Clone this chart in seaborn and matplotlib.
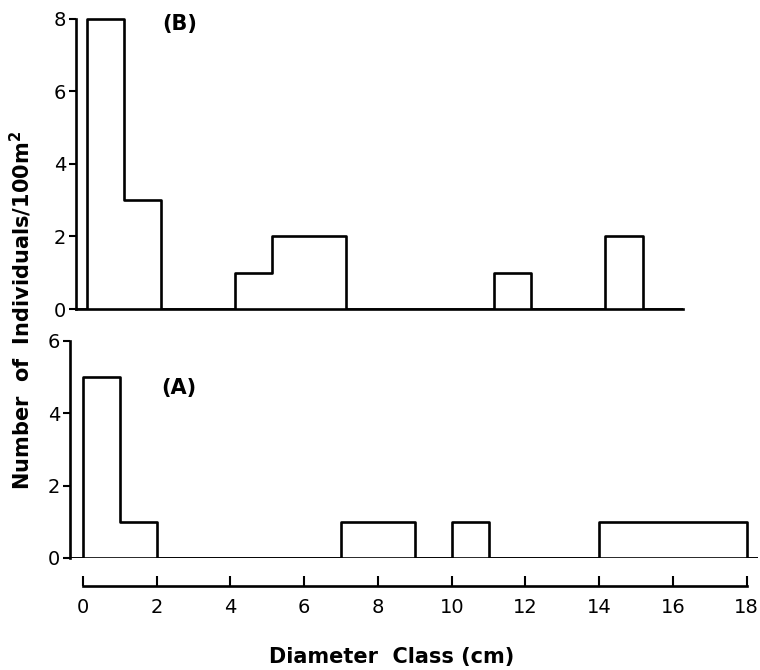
import numpy as np
import matplotlib
matplotlib.use("Agg")
import matplotlib.pyplot as plt
import seaborn as sns

# diameter class edges (cm) and individuals/100 m2 per class
# (outer zero-count classes only pad the outline back to the baseline)
edges_B = [-1, 0, 1, 2, 4, 5, 7, 11, 12, 14, 15, 17]
counts_B = [0, 8, 3, 0, 1, 2, 0, 1, 0, 2, 0]

edges_A = [-1, 0, 1, 2, 7, 9, 10, 11, 14, 18, 19]
counts_A = [0, 5, 1, 0, 1, 0, 1, 0, 1, 0]

yticks_B = [0, 2, 4, 6, 8]
yticks_A = [0, 2, 4, 6]
xticks = [0, 2, 4, 6, 8, 10, 12, 14, 16, 18]

sns.set_style("ticks", {"axes.edgecolor": "black", "text.color": "black",
                        "xtick.color": "black", "ytick.color": "black"})
plt.rcParams["font.family"] = ["DejaVu Sans"]

fig = plt.figure(figsize=(7.6, 6.7), dpi=100)
axB = fig.add_axes([0.100, 0.5388, 0.799, 0.4373])
axA = fig.add_axes([0.0921, 0.1672, 0.905, 0.3269])

lw = 1.9


def mids(e):
    e = np.asarray(e, dtype=float)
    return (e[:-1] + e[1:]) / 2


sns.histplot(x=mids(edges_B), weights=counts_B, bins=edges_B, element="step",
             fill=False, color="black", linewidth=lw, ax=axB)
sns.histplot(x=mids(edges_A), weights=counts_A, bins=edges_A, element="step",
             fill=False, color="black", linewidth=lw, ax=axA)

# panel B
axB.set_xlim(-0.3, 16.1)
axB.set_ylim(0, 8.08)
axB.set_yticks(yticks_B)
axB.set_xticks([])
axB.spines["left"].set_bounds(0, 8)
for s in ["top", "right"]:
    axB.spines[s].set_visible(False)
for s in ["left", "bottom"]:
    axB.spines[s].set_linewidth(lw)
axB.set_xlabel("")
axB.set_ylabel("")
axB.tick_params(axis="y", direction="out", length=5, width=1.5,
                labelsize=14, pad=2, labelcolor="black")
axB.text(2.5, 7.85, "(B)", fontsize=15, fontweight="bold", ha="center",
         va="center", color="black")

# panel A
axA.set_xlim(-0.35, 18.3)
axA.set_ylim(0, 6.05)
axA.set_yticks(yticks_A)
axA.set_xticks(xticks)
axA.axhline(0, color="black", linewidth=lw)
axA.spines["left"].set_bounds(0, 6)
axA.spines["bottom"].set_position(("outward", 20))
axA.spines["bottom"].set_bounds(0, 18)
for s in ["top", "right"]:
    axA.spines[s].set_visible(False)
for s in ["left", "bottom"]:
    axA.spines[s].set_linewidth(lw)
axA.set_xlabel("")
axA.set_ylabel("")
axA.tick_params(axis="y", direction="out", length=5, width=1.5,
                labelsize=14, pad=2, labelcolor="black")
axA.tick_params(axis="x", direction="in", length=7, width=1.5,
                labelsize=14, pad=9, labelcolor="black")
axA.text(2.6, 4.7, "(A)", fontsize=15, fontweight="bold", ha="center",
         va="center", color="black")

fig.text(0.027, 0.537, "Number  of  Individuals/100m$^\\mathbf{2}$", rotation=90,
         fontsize=15, fontweight="bold", ha="center", va="center", color="black")
fig.text(0.515, 0.02, "Diameter  Class (cm)", fontsize=15, fontweight="bold",
         ha="center", va="center", color="black")

fig.savefig("out.png", dpi=100)
